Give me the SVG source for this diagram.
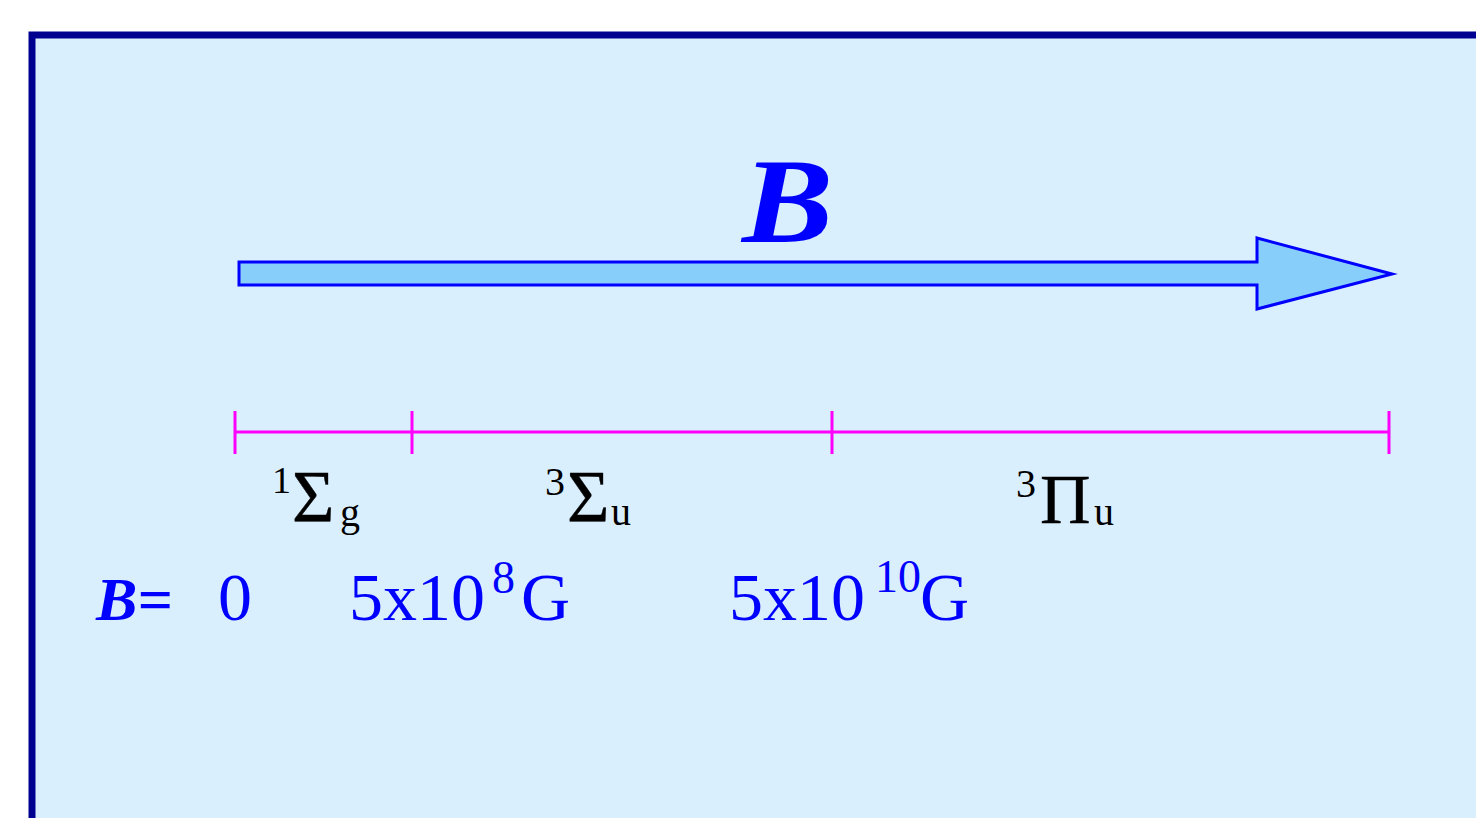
<svg xmlns="http://www.w3.org/2000/svg" width="1476" height="818" viewBox="0 0 1476 818">
<style>
.lab{font-family:"Liberation Serif","Times New Roman",serif;fill:#000}
.gr{stroke:#000;stroke-width:0.4}
.val{font-family:"Liberation Serif","Times New Roman",serif;fill:#0000ff}
.tick{stroke:#ff00ff;stroke-width:3;fill:none}
</style>
<rect x="0" y="0" width="1476" height="818" fill="#ffffff"/>
<g id="frame">
<rect x="32" y="35" width="1500" height="850" fill="#daeffe" stroke="#000090" stroke-width="7"/>
</g>
<g id="field-arrow">
<polygon points="239,262 1257,262 1257,238 1392,274 1257,309 1257,285 239,285" fill="#87cefa" stroke="#0000ff" stroke-width="3"/>
<text transform="translate(742,242) scale(1.13,1)" x="0" y="0" class="val" font-size="121" font-weight="bold" font-style="italic">B</text>
</g>
<g id="connectors">
<line class="tick" x1="235" y1="432" x2="1389" y2="432"/>
<line class="tick" x1="235" y1="411" x2="235" y2="454"/>
<line class="tick" x1="412" y1="411" x2="412" y2="454"/>
<line class="tick" x1="832" y1="411" x2="832" y2="454"/>
<line class="tick" x1="1389" y1="411" x2="1389" y2="454"/>
</g>
<g id="state-1Sg" class="lab">
<text x="272" y="493" font-size="38">1</text>
<text x="292" y="522" font-size="73" class="gr">Σ</text>
<text x="340" y="526" font-size="40">g</text>
</g>
<g id="state-3Su" class="lab">
<text x="545" y="495" font-size="40">3</text>
<text x="567" y="522" font-size="73" class="gr">Σ</text>
<text x="611" y="525" font-size="40">u</text>
</g>
<g id="state-3Pu" class="lab">
<text x="1016" y="497" font-size="40">3</text>
<text x="1040" y="523" font-size="70" class="gr">Π</text>
<text x="1094" y="525" font-size="40">u</text>
</g>
<g id="values" class="val">
<text x="96" y="620" font-size="62" font-weight="bold" font-style="italic">B=</text>
<text x="218" y="620" font-size="68">0</text>
<text x="349" y="620" font-size="68">5x10</text>
<text x="492" y="593" font-size="46">8</text>
<text x="521" y="620" font-size="68">G</text>
<text x="729" y="620" font-size="68">5x10</text>
<text x="875" y="592" font-size="46">10</text>
<text x="920" y="620" font-size="68">G</text>
</g>
</svg>
